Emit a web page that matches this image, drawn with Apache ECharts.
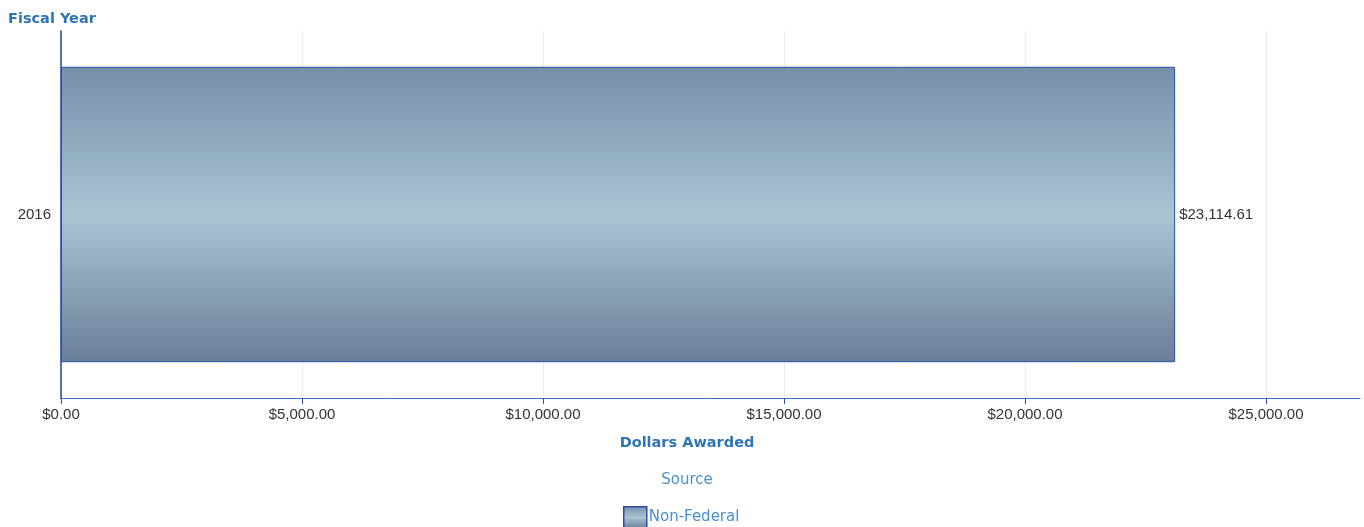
<!DOCTYPE html>
<html>
<head>
<meta charset="utf-8">
<script src="https://cdn.jsdelivr.net/npm/echarts@6/dist/echarts.min.js"></script>
<style>
	html,body{margin:0;padding:0;background:#fff;}
	#chart{width:1364px;height:527px;}
</style>
</head>
<body>
<div id="chart"></div>
<script>
var years=["2016"];
var seriesNames=["Non-Federal"];
var dollars=[23114.61];
var axisMax=26950;

function money(v){
	return "$"+Number(v).toLocaleString("en-US",{minimumFractionDigits:2,maximumFractionDigits:2});
}

var barColor=new echarts.graphic.LinearGradient(0,0,0,1,[
	{offset:0,color:'#758fa9'},
	{offset:0.5,color:'#a9c5d4'},
	{offset:1,color:'#687f98'}
]);

var chart=echarts.init(document.getElementById('chart'));
var option={
	animation:false,
	textStyle:{fontFamily:'DejaVu Sans'},
	title:[
		{text:'Fiscal Year',left:3,top:7,textStyle:{color:'#2e75b6',fontSize:14.5,fontWeight:'bold'}},
		{text:'Dollars Awarded',left:'50%',top:431,textAlign:'center',textStyle:{color:'#2e75b6',fontSize:14.5,fontWeight:'bold'}},
		{text:'Source',left:'50%',top:468,textAlign:'center',textStyle:{color:'#4a90d0',fontSize:15,fontWeight:'normal'}}
	],
	legend:{
		data:seriesNames,
		left:618,
		top:501,
		itemWidth:23,
		itemHeight:21,
		itemGap:4,
		icon:'rect',
		textStyle:{color:'#4a90d0',fontSize:15,padding:[0,0,0,-3]},
		itemStyle:{borderColor:'#2a4ea3',borderWidth:1.5}
	},
	grid:{left:61,right:4,top:31,bottom:129,containLabel:false},
	xAxis:{
		type:'value',
		min:0,
		max:axisMax,
		interval:5000,
		axisLine:{show:true,lineStyle:{color:'#3d6cc0',width:1}},
		axisTick:{show:true,length:6,lineStyle:{color:'#2a4ea3'}},
		axisLabel:{color:'#333',fontSize:15,margin:9,formatter:money,showMaxLabel:false,fontFamily:'Liberation Sans'},
		splitLine:{show:true,showMaxLine:false,lineStyle:{color:'#ebebeb',width:1}}
	},
	yAxis:{
		type:'category',
		data:years,
		axisLine:{show:true,lineStyle:{color:'#1f3fa0',width:1.5}},
		axisTick:{show:false},
		axisLabel:{color:'#333',fontSize:15,margin:10,fontFamily:'Liberation Sans'},
		splitLine:{show:false}
	},
	series:[{
		name:seriesNames[0],
		type:'bar',
		data:dollars,
		barWidth:'80.5%',
		itemStyle:{color:barColor,borderColor:'#2a4ea3',borderWidth:1},
		label:{show:true,position:'right',distance:4,color:'#333',fontSize:15,formatter:function(p){return money(p.value);},fontFamily:'Liberation Sans'}
	}]
};
chart.setOption(option);
</script>
</body>
</html>
